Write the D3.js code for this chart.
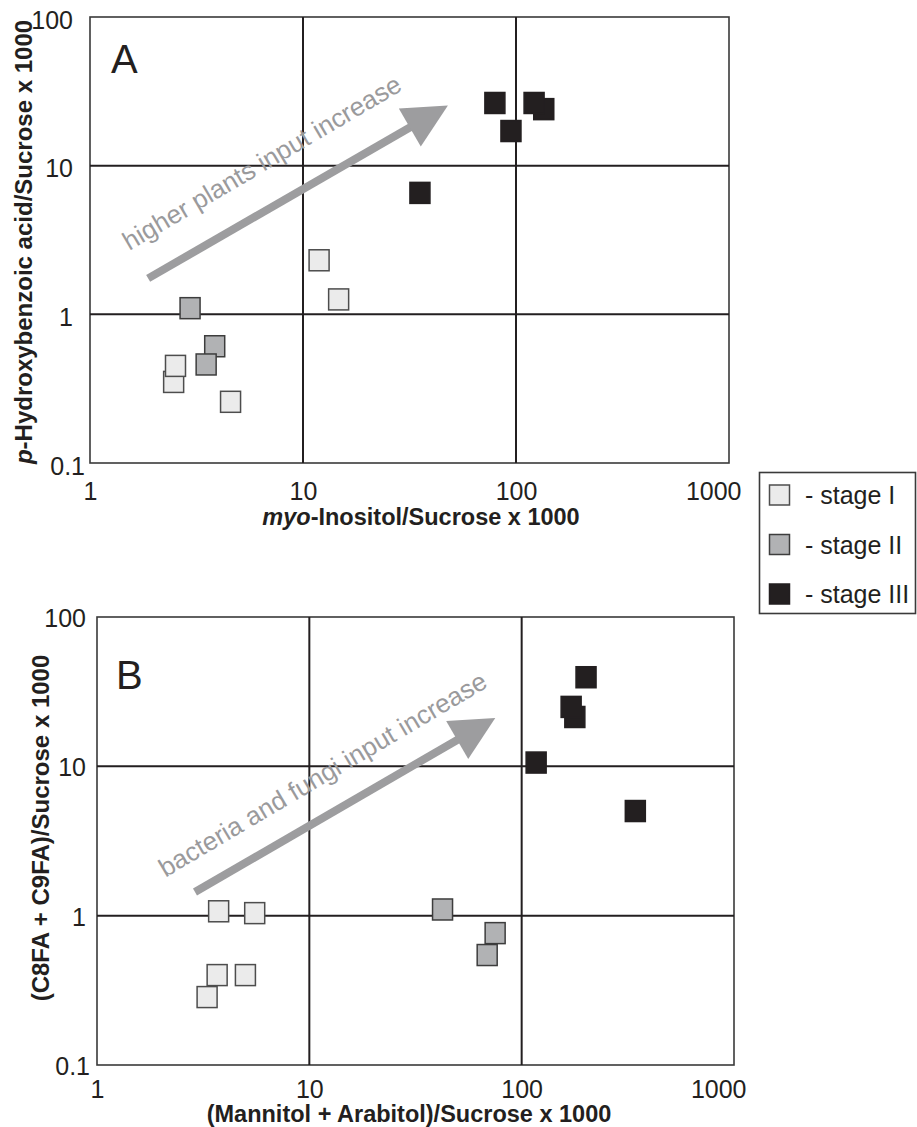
<!DOCTYPE html>
<html>
<head>
<meta charset="utf-8">
<script src="https://cdn.jsdelivr.net/npm/d3@7"></script>
<style>
  html, body { margin: 0; padding: 0; background: #fff; }
  svg { display: block; }
  text { font-family: "Liberation Sans", Arial, Helvetica, sans-serif; fill: #231f20; }
</style>
</head>
<body>
<svg id="chart" width="917" height="1127"></svg>
<script>
// ---------- data ----------
const xTicks = [1, 10, 100, 1000];
const yTicks = [0.1, 1, 10, 100];
const stageNames = ["stage I", "stage II", "stage III"];

// Panel A : myo-Inositol/Sucrose x 1000  vs  p-Hydroxybenzoic acid/Sucrose x 1000
const stageI_A_x   = [11.9, 14.7, 2.47, 2.52, 4.57];
const stageI_A_y   = [2.31, 1.26, 0.351, 0.45, 0.258];
const stageII_A_x  = [2.95, 3.85, 3.51];
const stageII_A_y  = [1.10, 0.61, 0.46];
const stageIII_A_x = [79.6, 135, 121.6, 94.7, 35.4];
const stageIII_A_y = [26.4, 24.0, 26.4, 17.1, 6.56];

// Panel B : (Mannitol + Arabitol)/Sucrose x 1000  vs  (C8FA + C9FA)/Sucrose x 1000
const stageI_B_x   = [3.74, 5.53, 3.68, 5.0, 3.30];
const stageI_B_y   = [1.07, 1.04, 0.40, 0.40, 0.285];
const stageII_B_x  = [42.4, 75.0, 68.8];
const stageII_B_y  = [1.10, 0.764, 0.545];
const stageIII_B_x = [201, 178, 171, 117, 343];
const stageIII_B_y = [39.5, 21.4, 25.0, 10.6, 5.02];

// annotation arrows (data coordinates: start -> tip)
const arrowA = [[1.875, 1.745], [47.9, 25.4]];
const arrowB = [[2.894, 1.44], [75.1, 21.1]];
const arrowTextA = "higher plants input increase";
const arrowTextB = "bacteria and fungi input increase";
const arrowTextPosA = [1.53, 2.67];
const arrowTextPosB = [2.1, 1.796];

// ---------- styles ----------
const stageFill   = ["#ebebeb", "#b1b2b4", "#231f20"];
const stageStroke = ["#4d4d4d", "#3d3d3d", "#231f20"];
const arrowColor = "#9d9d9f";

const svg = d3.select("#chart");

function drawPanel(cfg) {
  const x = d3.scaleLog().domain([1, 1000]).range([cfg.left, cfg.right]);
  const y = d3.scaleLog().domain([0.1, 100]).range([cfg.bottom, cfg.top]);
  const g = svg.append("g");

  // frame
  g.append("rect")
    .attr("x", cfg.left).attr("y", cfg.top)
    .attr("width", cfg.right - cfg.left).attr("height", cfg.bottom - cfg.top)
    .attr("fill", "none").attr("stroke", "#3a3a3a").attr("stroke-width", 1.6);

  // grid lines
  g.selectAll("line.gx").data(xTicks.slice(1, -1)).join("line")
    .attr("x1", d => x(d)).attr("x2", d => x(d))
    .attr("y1", cfg.top).attr("y2", cfg.bottom)
    .attr("stroke", "#231f20").attr("stroke-width", 2);
  g.selectAll("line.gy").data(yTicks.slice(1, -1)).join("line")
    .attr("y1", d => y(d)).attr("y2", d => y(d))
    .attr("x1", cfg.left).attr("x2", cfg.right)
    .attr("stroke", "#231f20").attr("stroke-width", 2);

  // axes (labels only)
  const lastX = xTicks[xTicks.length - 1];
  const ax = g.append("g").attr("transform", `translate(0,${cfg.bottom})`)
    .call(d3.axisBottom(x).tickValues(xTicks).tickFormat(d => String(d)).tickSize(0));
  ax.select(".domain").remove();
  ax.selectAll("text").attr("y", cfg.xTickBase).attr("dy", 0)
    .attr("font-size", 25).style("font-family", '"Liberation Sans", Arial, sans-serif').attr("fill", "#231f20");
  ax.selectAll(".tick").filter(d => d === lastX).select("text")
    .attr("text-anchor", "end").attr("x", 12);

  const firstY = yTicks[0];
  const ay = g.append("g").attr("transform", `translate(${cfg.yTickRight},0)`)
    .call(d3.axisLeft(y).tickValues(yTicks).tickFormat(d => String(d)).tickSize(0).tickPadding(0));
  ay.select(".domain").remove();
  ay.selectAll("text").attr("x", 0).attr("dy", cfg.yTickDy)
    .attr("font-size", 25).style("font-family", '"Liberation Sans", Arial, sans-serif').attr("fill", "#231f20");
  ay.selectAll(".tick").filter(d => d === firstY).select("text").attr("x", cfg.lowShift);

  // arrow
  const p0 = [x(cfg.arrow[0][0]), y(cfg.arrow[0][1])];
  const p1 = [x(cfg.arrow[1][0]), y(cfg.arrow[1][1])];
  const dx = p1[0] - p0[0], dy = p1[1] - p0[1];
  const L = Math.hypot(dx, dy);
  const u = [dx / L, dy / L], n = [-u[1], u[0]];
  const headLen = 44, headHalf = 22;
  const base = [p1[0] - u[0] * headLen, p1[1] - u[1] * headLen];
  g.append("line")
    .attr("x1", p0[0]).attr("y1", p0[1])
    .attr("x2", base[0] + u[0] * 4).attr("y2", base[1] + u[1] * 4)
    .attr("stroke", arrowColor).attr("stroke-width", 8);
  g.append("polygon")
    .attr("points", [p1,
      [base[0] + n[0] * headHalf, base[1] + n[1] * headHalf],
      [base[0] - n[0] * headHalf, base[1] - n[1] * headHalf]].map(p => p.join(",")).join(" "))
    .attr("fill", arrowColor);
  const ang = Math.atan2(dy, dx) * 180 / Math.PI;
  const tp = [x(cfg.textPos[0]), y(cfg.textPos[1])];
  g.append("text")
    .attr("transform", `translate(${tp[0]},${tp[1]}) rotate(${ang - 0.5})`)
    .attr("font-size", 26).style("fill", "#9a9a9c")
    .text(cfg.arrowText);

  // points
  cfg.series.forEach((s, i) => {
    const pts = s.x.map((v, k) => ({ x: v, y: s.y[k] }));
    g.selectAll(null).data(pts).join("rect")
      .attr("x", d => x(d.x) - 10).attr("y", d => y(d.y) - 10.5)
      .attr("width", 20).attr("height", 21)
      .attr("fill", stageFill[i]).attr("stroke", stageStroke[i]).attr("stroke-width", 1.5);
  });

  // panel letter
  g.append("text").attr("x", cfg.letterX).attr("y", cfg.letterY)
    .attr("font-size", 40).text(cfg.letter);

  // x title
  const xt = g.append("text").attr("x", cfg.xTitleX).attr("y", cfg.xTitleY)
    .attr("text-anchor", "middle").attr("font-size", 23.5).attr("font-weight", "bold");
  cfg.xTitle.forEach(p => xt.append("tspan").attr("font-style", p.it ? "italic" : "normal").text(p.t));

  // y title
  const yt = g.append("text")
    .attr("transform", `translate(${cfg.yTitleX},${cfg.yTitleY}) rotate(-90)`)
    .attr("text-anchor", "middle").attr("font-size", 24).attr("font-weight", "bold");
  cfg.yTitle.forEach(p => yt.append("tspan").attr("font-style", p.it ? "italic" : "normal").text(p.t));
}

drawPanel({
  left: 90, right: 729, top: 17, bottom: 463,
  xTickBase: 37, yTickRight: 73, yTickDy: "0.45em", lowShift: 12,
  arrow: arrowA, textPos: arrowTextPosA, arrowText: arrowTextA,
  series: [
    { x: stageI_A_x, y: stageI_A_y },
    { x: stageII_A_x, y: stageII_A_y },
    { x: stageIII_A_x, y: stageIII_A_y }
  ],
  letter: "A", letterX: 111, letterY: 73,
  xTitle: [{ t: "myo", it: true }, { t: "-Inositol/Sucrose x 1000" }],
  xTitleX: 421, xTitleY: 525,
  yTitle: [{ t: "p", it: true }, { t: "-Hydroxybenzoic acid/Sucrose x 1000" }],
  yTitleX: 32, yTitleY: 242
});

drawPanel({
  left: 97, right: 734, top: 617, bottom: 1065,
  xTickBase: 33, yTickRight: 86, yTickDy: "0.38em", lowShift: 4,
  arrow: arrowB, textPos: arrowTextPosB, arrowText: arrowTextB,
  series: [
    { x: stageI_B_x, y: stageI_B_y },
    { x: stageII_B_x, y: stageII_B_y },
    { x: stageIII_B_x, y: stageIII_B_y }
  ],
  letter: "B", letterX: 116, letterY: 689,
  xTitle: [{ t: "(Mannitol + Arabitol)/Sucrose x 1000" }],
  xTitleX: 409, xTitleY: 1122,
  yTitle: [{ t: "(C8FA + C9FA)/Sucrose x 1000" }],
  yTitleX: 49, yTitleY: 828
});

// ---------- legend ----------
const lg = svg.append("g");
lg.append("rect").attr("x", 759.5).attr("y", 472.5).attr("width", 156).attr("height", 141)
  .attr("fill", "#fff").attr("stroke", "#3a3a3a").attr("stroke-width", 1.6);
const legendRowY = d3.scalePoint().domain(stageNames).range([495, 594]);
stageNames.forEach((s, i) => {
  lg.append("rect").attr("x", 769.5).attr("y", legendRowY(s) - 10).attr("width", 20).attr("height", 20)
    .attr("fill", stageFill[i]).attr("stroke", stageStroke[i]).attr("stroke-width", 1.5);
  lg.append("text").attr("x", 805).attr("y", legendRowY(s) + 9)
    .attr("font-size", 25).text("- " + s);
});
</script>
</body>
</html>
